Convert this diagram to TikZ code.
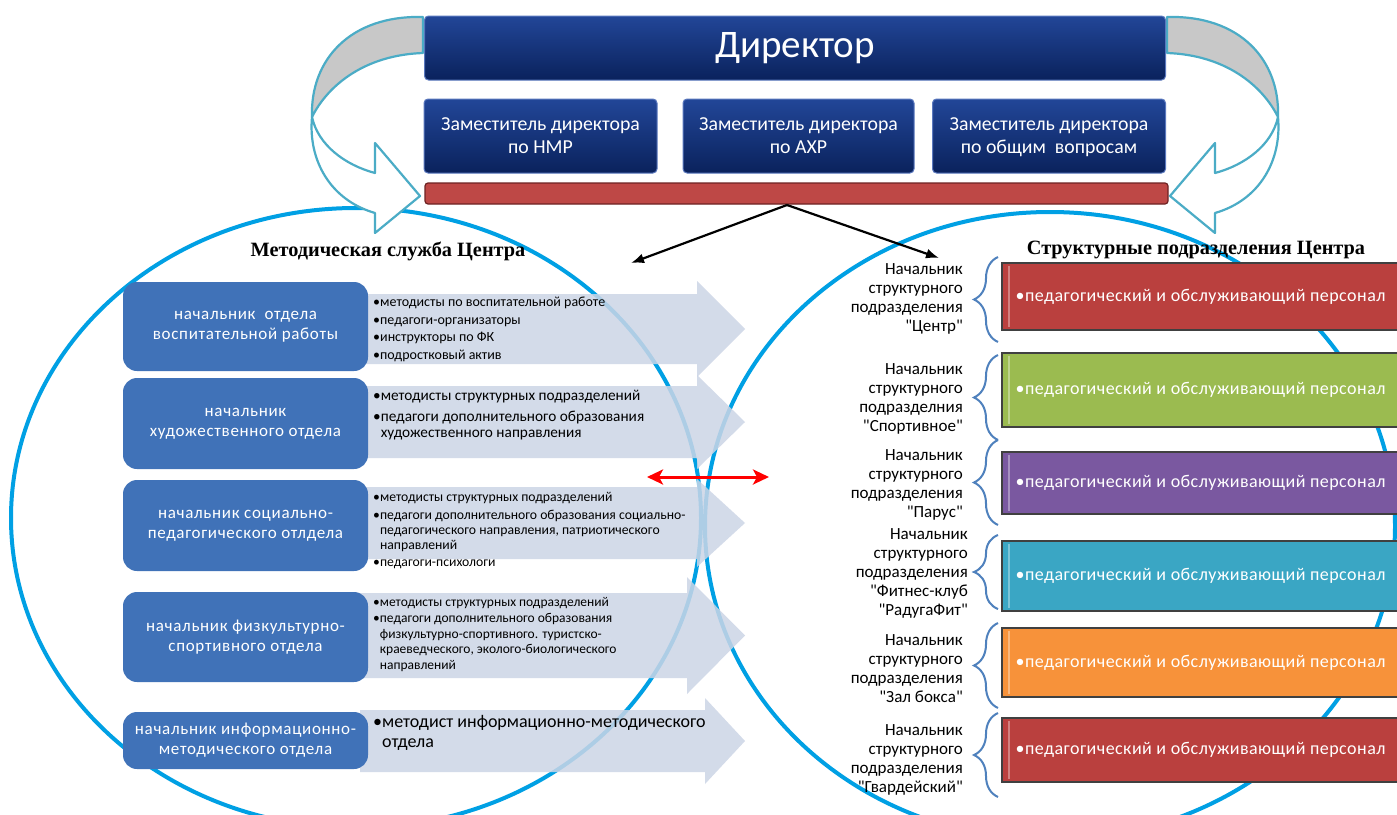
\documentclass[tikz,border=0pt]{standalone}
\usepackage{fontspec}
\setmainfont{Carlito}[Ligatures=TeXOff]
\newfontfamily\headfont{Liberation Serif}
\usetikzlibrary{arrows.meta,positioning,decorations.pathreplacing}

\definecolor{navytop}{RGB}{34,70,152}
\definecolor{navybot}{RGB}{10,34,92}
\definecolor{navyedge}{RGB}{90,120,190}
\definecolor{barred}{RGB}{190,72,70}
\definecolor{baredge}{RGB}{110,35,35}
\definecolor{deptblue}{RGB}{64,114,184}
\definecolor{listfill}{RGB}{204,213,230}
\definecolor{ringblue}{RGB}{0,160,228}
\definecolor{curvteal}{RGB}{75,172,198}
\definecolor{curvgray}{RGB}{200,200,200}
\definecolor{bracecol}{RGB}{79,129,189}
\definecolor{unitred}{RGB}{186,64,62}
\definecolor{unitgreen}{RGB}{155,187,80}
\definecolor{unitpurple}{RGB}{122,88,160}
\definecolor{unitcyan}{RGB}{58,166,196}
\definecolor{unitorange}{RGB}{247,146,58}

\newcommand{\fs}[2]{\fontsize{#1}{#2}\selectfont}

\begin{document}
\begin{tikzpicture}[x=1pt,y=-1pt,
  navybox/.style={draw=navyedge,line width=1pt,rounded corners=4pt,top color=navytop,bottom color=navybot,text=white,align=center,inner sep=0pt},
  dept/.style={fill=deptblue,rounded corners=14pt,text=white,align=center,minimum width=245pt,inner sep=0pt,font=\fs{17}{20}\addfontfeature{LetterSpace=4}},
  list/.style={anchor=west,align=left,inner sep=0pt},
  unit/.style={draw=black!75,line width=1.6pt,minimum width=397pt,text=white,inner sep=0pt,font=\fs{18}{20}\addfontfeature{LetterSpace=2.5},
    path picture={\draw[white,opacity=.35,line width=2pt]
      ([xshift=7pt,yshift=3pt]path picture bounding box.south west) -- ([xshift=7pt,yshift=-3pt]path picture bounding box.north west);}},
  chief/.style={anchor=east,align=right,inner sep=0pt,font=\fs{17}{19}},
  ring/.style={draw=ringblue,line width=4pt},
  curv/.style={draw=curvteal,line width=2.2pt,line join=round},
  grp/.style={draw=bracecol,line width=2pt,decorate,decoration={brace,amplitude=24pt}},
  tie/.style={-{Latex[length=13pt,width=10pt]},line width=2.2pt},
  link/.style={{Stealth[length=16pt,width=15pt,inset=4pt]}-{Stealth[length=16pt,width=15pt,inset=4pt]},draw=red,line width=3pt},
  ttl/.style={inner sep=0pt,font=\headfont\bfseries\fs{20.3}{23}}
]
\fill[white] (0,0) rectangle (1397,814);
\useasboundingbox (0,0) rectangle (1397,814);

% big rings
\draw[ring] (356,518) ellipse [x radius=345, y radius=310];
\draw[ring] (1050,526) ellipse [x radius=345, y radius=314];

% curved arrows round the director
\foreach \sx in {1,-1}{
  \begin{scope}[shift={(795,0)},xscale=\sx]
    \filldraw[curv,fill=curvgray] (372,17) .. controls (445,15) and (485,60) .. (483,117)
      .. controls (467,85) and (430,55) .. (372,53) -- cycle;
    \filldraw[curv,fill=white] (483,117) .. controls (487,160) and (465,200) .. (420,213)
      -- (420,233) -- (375,196) -- (420,143) -- (420,173)
      .. controls (450,165) and (477,145) .. (483,117) -- cycle;
  \end{scope}
}

% top block
\node[navybox,minimum width=741pt,minimum height=64pt,font=\fs{39}{44}] (dir) at (795,48) {Директор};
\node[navybox,minimum width=233pt,minimum height=74pt,font=\fs{19.8}{23}] (dep1) at (540.5,136) {Заместитель директора\\по НМР};
\node[navybox,minimum width=231pt,minimum height=74pt,font=\fs{19.8}{23}] (dep2) at (798.5,136) {Заместитель директора\\по АХР};
\node[navybox,minimum width=233pt,minimum height=74pt,font=\fs{19.8}{23}] (dep3) at (1049,136) {Заместитель директора\\\smash{по общим\ \ вопросам}};
\node[fill=barred,draw=baredge,line width=1.2pt,rounded corners=3pt,minimum width=743pt,minimum height=21pt,inner sep=0pt] (bar) at (796.5,193.5) {};

% methodical service
\foreach \t/\b/\e/\h in {294/364/13/697, 386/458/11/697, 487/559/8/697, 593/678/16/687, 710/772/12/705}{
  \fill[listfill,fill opacity=.85] (360,\t) -- (\h,\t) -- (\h,\t-\e) -- (745,{(\t+\b)/2})
    -- (\h,\b+\e) -- (\h,\b) -- (360,\b) -- cycle;
}
\node[ttl] (mtitle) at (388,251) {Методическая служба Центра};
\node[dept,minimum height=89pt] (d1) at (245.5,326.5) {начальник\ \ отдела\\воспитательной работы};
\node[dept,minimum height=91pt] (d2) at (245.5,423.5) {начальник\\художественного отдела};
\node[dept,minimum height=91pt] (d3) at (245.5,525.5) {начальник социально-\\педагогического отлдела};
\node[dept,minimum height=90pt] (d4) at (245.5,637) {начальник физкультурно-\\спортивного отдела};
\node[dept,minimum height=57pt] (d5) at (245.5,740.5) {начальник информационно-\\методического отдела};
\node[list,font=\fs{14}{17.7}] (l1) at (373,329.5) {•методисты по воспитательной работе\\•педагоги-организаторы\\•инструкторы по ФК\\•подростковый актив};
\node[list,font=\fs{15.3}{16}] (l2) at (373,415.5) {•методисты структурных подразделений\\[5pt]•педагоги дополнительного образования\\\hphantom{•}художественного направления};
\node[list,font=\fs{13.7}{15.2}] (l3) at (373,530.5) {•методисты структурных подразделений\\[3pt]•педагоги дополнительного образования социально-\\\hphantom{•}педагогического направления, патриотического\\\hphantom{•}направлений\\[2pt]•педагоги-психологи};
\node[list,font=\fs{13.5}{15.5}] (l4) at (373,634.5) {•методисты структурных подразделений\\[1pt]•педагоги дополнительного образования\\\hphantom{•}физкультурно-спортивного. туристско-\\\hphantom{•}краеведческого, эколого-биологического\\\hphantom{•}направлений};
\node[list,font=\fs{18}{20}] (l5) at (373,733) {•методист информационно-методического\\\hphantom{•}отдела};

% links from the bar
\coordinate (fork) at (787,205);
\coordinate (toleft) at (631,263);
\coordinate (toright) at (939,258);
\draw[tie] (fork) -- (toleft);
\draw[tie] (fork) -- (toright);
\coordinate (ra) at (647,477);
\coordinate (rb) at (769,477);
\draw[link] (ra) -- (rb);

% structural units
\node[ttl] (stitle) at (1196,250) {Структурные подразделения Центра};
\node[unit,fill=unitred,minimum height=67pt] (u1) at (1200.5,296.5) {•педагогический и обслуживающий персонал};
\node[unit,fill=unitgreen,minimum height=74pt] (u2) at (1200.5,390) {•педагогический и обслуживающий персонал};
\node[unit,fill=unitpurple,minimum height=62pt] (u3) at (1200.5,483) {•педагогический и обслуживающий персонал};
\node[unit,fill=unitcyan,minimum height=70pt] (u4) at (1200.5,576) {•педагогический и обслуживающий персонал};
\node[unit,fill=unitorange,minimum height=69pt] (u5) at (1200.5,662.5) {•педагогический и обслуживающий персонал};
\node[unit,fill=unitred,minimum height=64pt] (u6) at (1200.5,750) {•педагогический и обслуживающий персонал};

\foreach \lo/\hi in {342/257, 440/355, 525/440, 609/535, 708/623, 797/713}{
  \draw[grp] (998,\lo) -- (998,\hi);
}
\node[chief] (c1) at (963,298.5) {Начальник\\структурного\\подразделения\\"Центр"};
\node[chief] (c2) at (963,399) {Начальник\\структурного\\подразделния\\"Спортивное"};
\node[chief] (c3) at (963,485) {Начальник\\структурного\\подразделения\\"Парус"};
\node[chief] (c4) at (968,573) {Начальник\\структурного\\подразделения\\"Фитнес-клуб\\"РадугаФит"};
\node[chief] (c5) at (963,669) {Начальник\\структурного\\подразделения\\"Зал бокса"};
\node[chief] (c6) at (963,760) {Начальник\\структурного\\подразделения\\"Гвардейский"};
\end{tikzpicture}
\end{document}
